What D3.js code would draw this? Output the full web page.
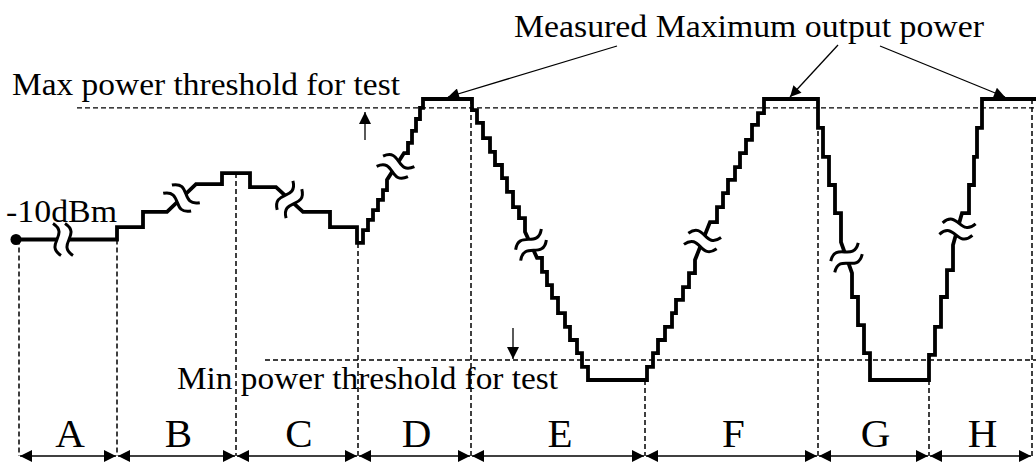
<!DOCTYPE html>
<meta charset="utf-8">
<style>
body { margin: 0; background: #fff; }
svg { display: block; }
text { font-family: "Liberation Serif", "Times New Roman", serif; fill: #000; }
.trace { fill: none; stroke: #000; stroke-width: 3.8px; stroke-linejoin: miter; }
.guide { fill: none; stroke: #000; stroke-width: 1.5px; stroke-dasharray: 5,3; }
.thresh { stroke: #000; stroke-width: 1.3px; stroke-dasharray: 5,3; }
.span { stroke: #000; stroke-width: 1.5px; }
.pointer { stroke: #000; stroke-width: 1.3px; }
.brk { fill: #fff; stroke: none; }
.brkline { fill: none; stroke: #000; stroke-width: 3px; }
</style>
<svg></svg>
<script src="https://cdnjs.cloudflare.com/ajax/libs/d3/7.8.5/d3.min.js"></script>
<script>

var width = 1036,
    height = 463;

// phases along the time axis (arbitrary time units)
var phaseLabels = ["A", "B", "C", "D", "E", "F", "G", "H"];
var phaseBounds = [0, 98, 217, 339, 452, 626, 799, 910, 1013];

// power levels (dBm)
var maxThreshold = 20.9,
    minThreshold = -38.3,
    maxPower = 23,
    startPower = -10;

// power steps: [time, dBm, gap]  gap = 1 -> broken (wavy) jump
var stepsA = [[0, -10], [31, -10], [57, -10, 1]];
var stepsB = [[98, -7.1], [124, -3.5], [148, -3.5], [177, 3.0, 1], [203, 5.6]];
var stepsC = [[231, 2.3], [257, 2.3], [284, -3.5, 1], [311, -7.1], [338, -10.8]];
var stepsD = [[344, -7.8], [349, -5.4], [354, -3.1], [359, -0.7], [364, 1.6], [368, 4.0],
              [385, 10.3, 1], [389, 12.7], [393, 15.5], [397, 18.3], [401, 20.9], [404, 23]];
var stepsE = [[453, 20.4], [458, 17.4], [464, 13.8], [471, 10.6], [476, 7.5], [483, 4.4],
              [488, 1.2], [494, -2.4], [500, -5.0], [506, -8.2], [518, -14.3, 1], [523, -17.6],
              [528, -20.7], [533, -23.7], [539, -27.3], [546, -30.5], [551, -33.6],
              [558, -36.7], [563, -39.9], [569, -43]];
var stepsF = [[628, -39.9], [634, -36.7], [639, -33.6], [646, -30.5], [653, -27.3],
              [657, -24.2], [664, -21.2], [670, -17.9], [676, -14.8], [691, -5.9, 1],
              [698, -2.4], [704, 0.9], [709, 4.0], [716, 7.0], [721, 10.3], [727, 13.4],
              [733, 16.9], [739, 19.7], [745, 23]];
var stepsG = [[799, 16.2], [804, 9.4], [810, 2.8], [816, -3.8], [822, -10.6],
              [833, -17.9, 1], [833, -23.5], [839, -30.1], [845, -36.7], [851, -43]];
var stepsH = [[910, -37.1], [916, -30.5], [922, -23.5], [928, -17.2], [934, -11.3],
              [943, -3.8, 1], [950, 2.8], [955, 9.4], [958, 16.2], [963, 23], [1017, 23]];

var steps = [].concat(stepsA, stepsB, stepsC, stepsD, stepsE, stepsF, stepsG, stepsH);

var svg = d3.select("svg")
    .attr("width", width)
    .attr("height", height);

var x = d3.scaleLinear().domain([0, 1013]).range([19, 1032]);
var y = d3.scaleLinear().domain([-43, 23]).range([380, 99]);

var spanY = 456;

var defs = svg.append("defs");
function marker(id, w, h) {
  defs.append("marker")
      .attr("id", id)
      .attr("viewBox", "0 0 10 10")
      .attr("refX", 10)
      .attr("refY", 5)
      .attr("markerUnits", "userSpaceOnUse")
      .attr("markerWidth", w)
      .attr("markerHeight", h)
      .attr("orient", "auto-start-reverse")
    .append("path")
      .attr("d", "M0,0L10,5L0,10z")
      .attr("fill", "#000");
}
marker("tri", 13, 12);
marker("tip", 16, 11);

// level just before time t
function levelAt(t) {
  var v = steps[0][1];
  steps.forEach(function(p) { if (p[0] < t) v = p[1]; });
  return v;
}

// threshold lines
svg.append("line").attr("class", "thresh")
    .attr("x1", x(58)).attr("x2", width)
    .attr("y1", y(maxThreshold)).attr("y2", y(maxThreshold));
svg.append("line").attr("class", "thresh")
    .attr("x1", x(246)).attr("x2", width)
    .attr("y1", y(minThreshold)).attr("y2", y(minThreshold));

// phase boundary guides
svg.append("g").selectAll("line")
    .data(phaseBounds)
    .enter().append("line")
      .attr("class", "guide")
      .attr("x1", function(d) { return x(d); })
      .attr("x2", function(d) { return x(d); })
      .attr("y1", function(d) { return y(levelAt(d)); })
      .attr("y2", spanY);

// phase spans with double arrows
svg.append("g").selectAll("line")
    .data(d3.pairs(phaseBounds))
    .enter().append("line")
      .attr("class", "span")
      .attr("x1", function(d) { return x(d[0]) + 1; })
      .attr("x2", function(d) { return x(d[1]) - 1; })
      .attr("y1", spanY)
      .attr("y2", spanY)
      .attr("marker-start", "url(#tri)")
      .attr("marker-end", "url(#tri)");

svg.append("g").selectAll("text")
    .data(d3.pairs(phaseBounds))
    .enter().append("text")
      .attr("x", function(d) { return x((d[0] + d[1]) / 2) + 2; })
      .attr("y", 447)
      .attr("text-anchor", "middle")
      .attr("font-size", 41)
      .text(function(d, i) { return phaseLabels[i]; });

// the power trace
var corners = [];
steps.forEach(function(p, i) {
  if (i > 0 && !p[2]) corners.push([p[0], steps[i - 1][1]]);
  corners.push([p[0], p[1]]);
});

var line = d3.line()
    .x(function(d) { return x(d[0]); })
    .y(function(d) { return y(d[1]); });

svg.append("path")
    .datum(corners)
    .attr("class", "trace")
    .attr("d", line);

svg.append("circle")
    .attr("cx", x(0) - 3)
    .attr("cy", y(startPower))
    .attr("r", 5.5);

// wavy break marks
var gaps = [];
steps.forEach(function(p, i) {
  if (p[2]) gaps.push([steps[i - 1], p]);
});

function sCurve(u) {
  return "M" + (u - 4) + ",-16C" + (u + 13) + ",-5 " + (u - 13) + ",5 " + (u + 4) + ",16";
}

var brk = svg.append("g").selectAll("g")
    .data(gaps)
    .enter().append("g")
      .attr("transform", function(d) {
        var x0 = x(d[0][0]), y0 = y(d[0][1]), x1 = x(d[1][0]), y1 = y(d[1][1]);
        var a = Math.atan2(y1 - y0, x1 - x0) * 180 / Math.PI;
        return "translate(" + (x0 + x1) / 2 + "," + (y0 + y1) / 2 + ") rotate(" + a + ")";
      });

brk.append("path")
    .attr("class", "brk")
    .attr("d", "M-10,-16C7,-5 -19,5 -2,16L10,16C-7,5 19,-5 2,-16Z");
brk.append("path").attr("class", "brkline").attr("d", sCurve(-6));
brk.append("path").attr("class", "brkline").attr("d", sCurve(6));

// threshold arrows
svg.append("line").attr("class", "pointer")
    .attr("x1", x(346)).attr("x2", x(346))
    .attr("y1", y(maxThreshold) + 32).attr("y2", y(maxThreshold) + 4)
    .attr("marker-end", "url(#tri)");
svg.append("line").attr("class", "pointer")
    .attr("x1", x(494)).attr("x2", x(494))
    .attr("y1", y(minThreshold) - 32).attr("y2", y(minThreshold) - 1)
    .attr("marker-end", "url(#tri)");

// labels
svg.append("text")
    .attr("x", 12).attr("y", 95)
    .attr("font-size", 31)
    .attr("textLength", 388).attr("lengthAdjust", "spacingAndGlyphs")
    .text("Max power threshold for test");

svg.append("text")
    .attr("x", 177).attr("y", 389)
    .attr("font-size", 31)
    .attr("textLength", 381).attr("lengthAdjust", "spacingAndGlyphs")
    .text("Min power threshold for test");

svg.append("text")
    .attr("x", 6).attr("y", 222)
    .attr("font-size", 31)
    .attr("textLength", 111).attr("lengthAdjust", "spacingAndGlyphs")
    .text("-10dBm");

svg.append("text")
    .attr("x", 514).attr("y", 37)
    .attr("font-size", 31)
    .attr("textLength", 470).attr("lengthAdjust", "spacingAndGlyphs")
    .text("Measured Maximum output power");

// pointers to the measured maximum
var pointers = [[617, 46, 429], [838, 45, 771], [880, 46, 986]];
svg.append("g").selectAll("line")
    .data(pointers)
    .enter().append("line")
      .attr("class", "pointer")
      .attr("x1", function(d) { return d[0]; })
      .attr("y1", function(d) { return d[1]; })
      .attr("x2", function(d) { return x(d[2]); })
      .attr("y2", y(maxPower) - 2)
      .attr("marker-end", "url(#tip)");

</script>
